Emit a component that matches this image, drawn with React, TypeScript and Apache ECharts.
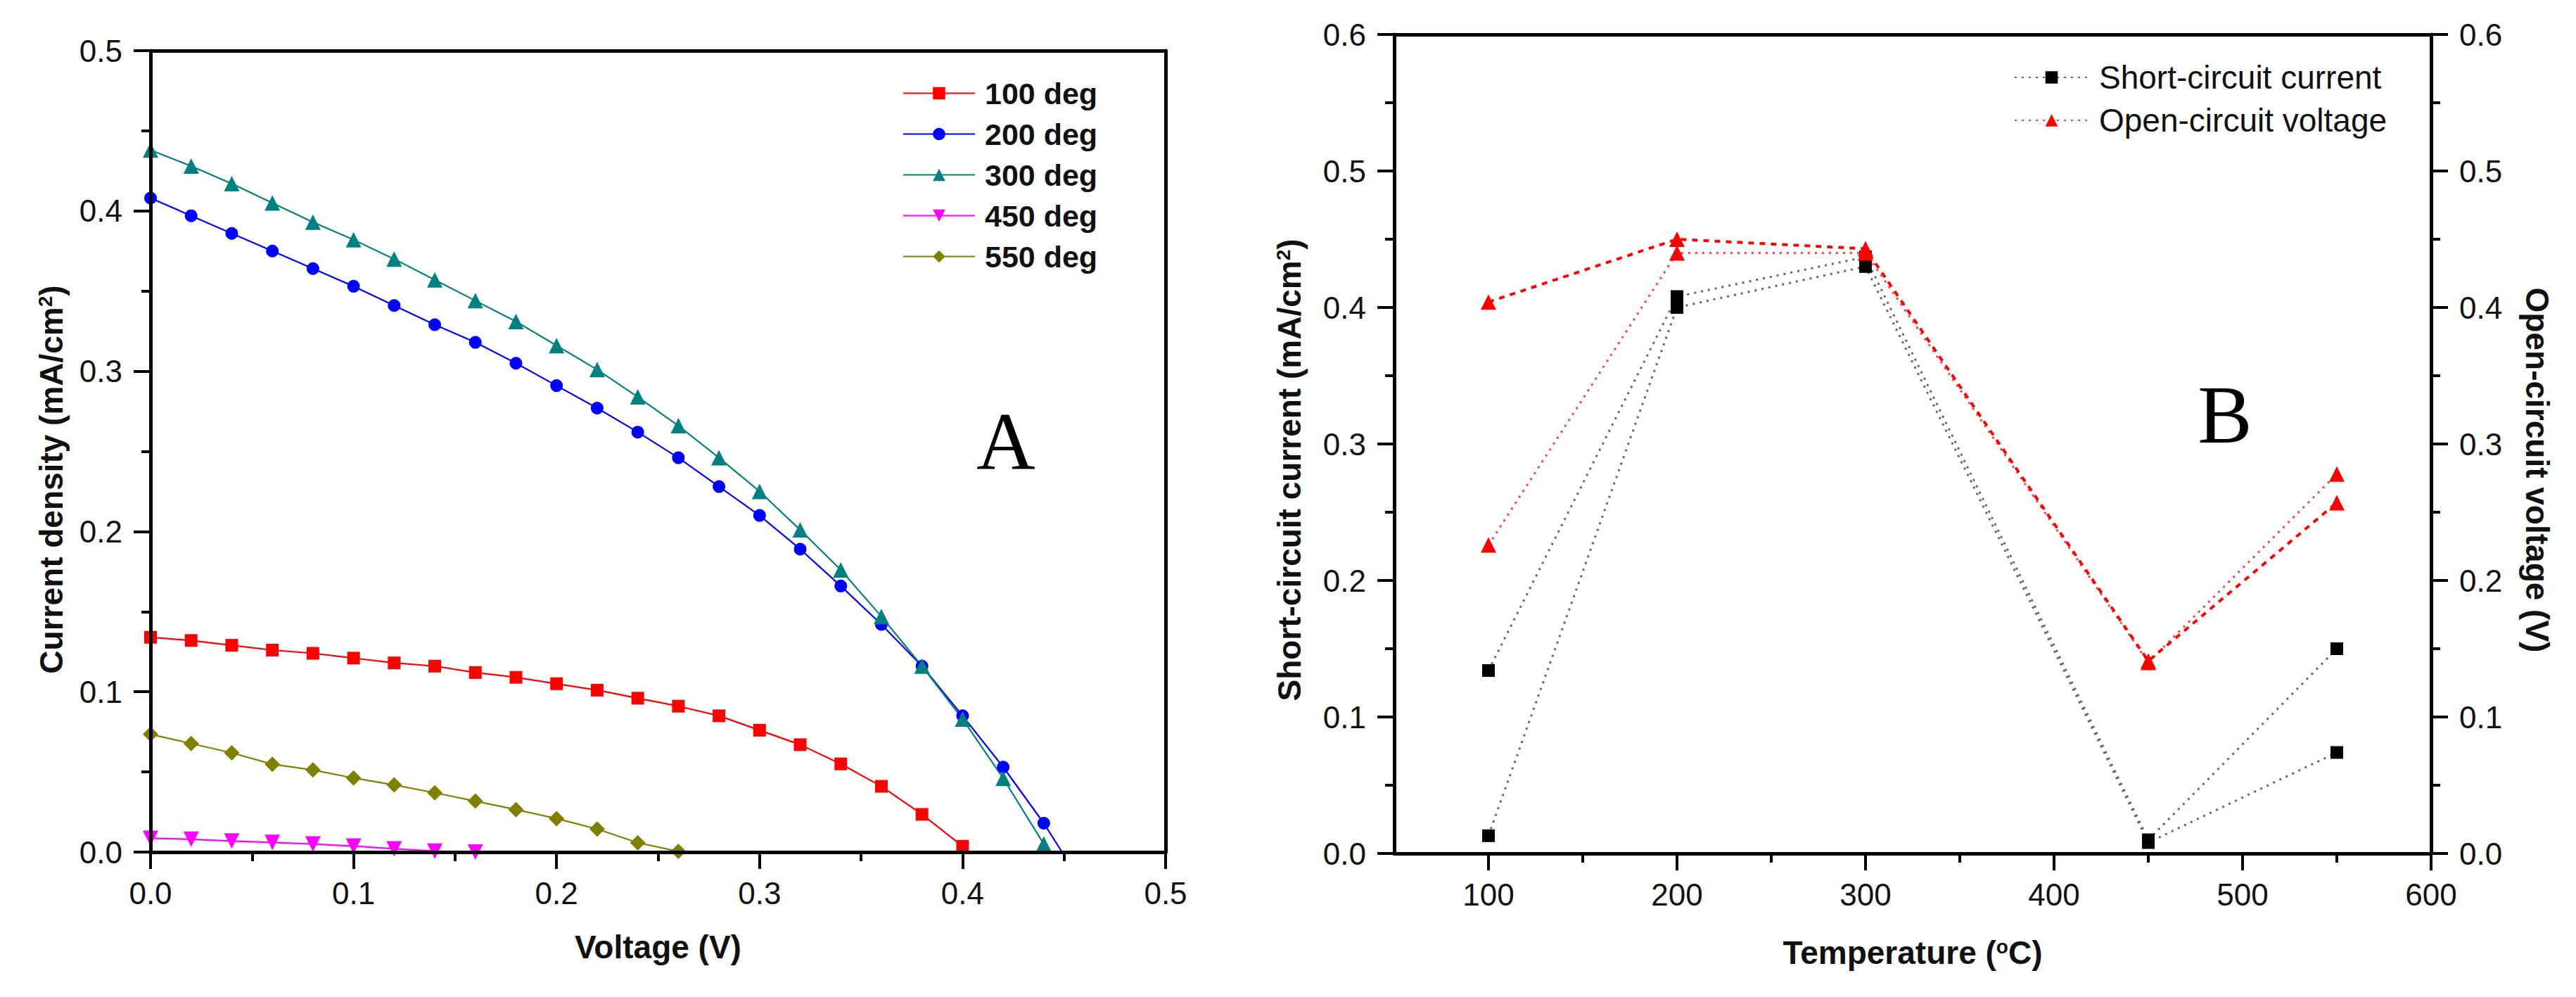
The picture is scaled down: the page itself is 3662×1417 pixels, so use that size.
import React, { useEffect, useRef } from "react";
import * as echarts from "echarts";

// ---------- Panel A data ----------
const voltage = [0, 0.02, 0.04, 0.06, 0.08, 0.1, 0.12, 0.14, 0.16, 0.18, 0.2, 0.22, 0.24, 0.26, 0.28, 0.3, 0.32, 0.34, 0.36, 0.38, 0.4, 0.42, 0.44];
const j100 = [0.134, 0.132, 0.129, 0.126, 0.124, 0.121, 0.118, 0.116, 0.112, 0.109, 0.105, 0.101, 0.096, 0.091, 0.085, 0.076, 0.067, 0.055, 0.041, 0.0235, 0.0036];
const j200 = [0.408, 0.397, 0.386, 0.375, 0.364, 0.353, 0.341, 0.329, 0.318, 0.305, 0.291, 0.277, 0.262, 0.246, 0.228, 0.21, 0.189, 0.166, 0.142, 0.116, 0.085, 0.053, 0.018];
const j200End = [0.449, 0.0];
const j300 = [0.438, 0.428, 0.417, 0.405, 0.393, 0.382, 0.37, 0.357, 0.344, 0.331, 0.316, 0.301, 0.284, 0.266, 0.246, 0.225, 0.201, 0.176, 0.147, 0.116, 0.083, 0.046, 0.005];
const j450 = [0.0086, 0.008, 0.0069, 0.006, 0.005, 0.0037, 0.002, 0.0006, 0.0];
const j550 = [0.0735, 0.0677, 0.0619, 0.0548, 0.0512, 0.0462, 0.0419, 0.037, 0.0318, 0.0265, 0.0209, 0.0144, 0.0058, 0.0004];
const namesA = ["100 deg", "200 deg", "300 deg", "450 deg", "550 deg"];
const ticksA = [0, 0.1, 0.2, 0.3, 0.4, 0.5];

// ---------- Panel B data ----------
const temps = [100, 200, 300, 450, 550];
const iscA = [0.134, 0.408, 0.437, 0.01, 0.15];
const iscB = [0.013, 0.4, 0.43, 0.008, 0.074];
const vocA = [0.404, 0.45, 0.443, 0.141, 0.257];
const vocB = [0.226, 0.44, 0.44, 0.14, 0.278];
const tempMajor = [100, 200, 300, 400, 500, 600];
const tempMinor = [150, 250, 350, 450, 550];
const namesB = ["Short-circuit current", "Open-circuit voltage"];

const SANS = '"Liberation Sans", Arial, sans-serif';
const SERIF = '"Liberation Serif", "Times New Roman", serif';

function pairs(xs: number[], ys: number[]) {
  return ys.map((y, i) => [xs[i], y]);
}

export default function App() {
  const ref = useRef<HTMLDivElement>(null);
  useEffect(() => {
    document.body.style.margin = "0";
    if (!ref.current) return;
    const chart = echarts.init(ref.current, undefined, { renderer: "svg" });

    const tickLabel = { color: "#111", fontSize: 44, fontFamily: SANS };
    const nameStyle = {
      color: "#111",
      fontSize: 46,
      fontWeight: "bold" as const,
      fontFamily: SANS,
      rich: { sup: { fontSize: 28, fontWeight: "bold" as const, fontFamily: SANS, verticalAlign: "top" as const, color: "#111" } },
    };
    const axisLine = { show: true, onZero: false, lineStyle: { color: "#000", width: 5 } };
    const majorTick = { show: true, inside: false, length: 24, lineStyle: { color: "#000", width: 4 } };
    const minorTick = { show: true, splitNumber: 2, length: 13, lineStyle: { color: "#000", width: 4 } };

    const lineA = (name: string, data: any[], color: string, symbol: string, size: number, rotate = 0) => ({
      type: "line",
      name,
      xAxisIndex: 0,
      yAxisIndex: 0,
      data,
      symbol,
      symbolSize: size,
      symbolRotate: rotate,
      showAllSymbol: true,
      itemStyle: { color },
      lineStyle: { color, width: 2.2 },
      z: 3,
    });

    const option: any = {
      animation: false,
      backgroundColor: "#fff",
      grid: [
        { left: 214, top: 72, width: 1443, height: 1139, show: false },
        { left: 1982, top: 49, width: 1474, height: 1164, show: false },
      ],
      xAxis: [
        {
          gridIndex: 0, type: "value", min: 0, max: 0.5, interval: 0.1, position: "bottom", z: 10,
          axisLine, axisTick: majorTick, minorTick, splitLine: { show: false }, minorSplitLine: { show: false },
          axisLabel: { ...tickLabel, margin: 36, formatter: (v: number) => v.toFixed(1), customValues: ticksA },
          name: "Voltage (V)", nameLocation: "middle", nameGap: 112, nameTextStyle: nameStyle,
        },
        {
          gridIndex: 0, type: "value", min: 0, max: 0.5, position: "top", z: 10,
          axisLine, axisTick: { show: false }, axisLabel: { show: false }, splitLine: { show: false },
        },
        {
          gridIndex: 1, type: "value", min: 50, max: 600, interval: 50, position: "bottom", z: 10,
          axisLine, axisTick: { ...majorTick, customValues: tempMajor }, splitLine: { show: false },
          axisLabel: { ...tickLabel, margin: 36, customValues: tempMajor, formatter: (v: number) => String(v) },
          name: "Temperature ({sup|o}C)", nameLocation: "middle", nameGap: 118, nameTextStyle: nameStyle,
        },
        {
          gridIndex: 1, type: "value", min: 50, max: 600, interval: 50, position: "bottom", z: 10,
          axisLine: { show: false }, axisLabel: { show: false }, splitLine: { show: false },
          axisTick: { show: true, inside: false, length: 13, customValues: tempMinor, lineStyle: { color: "#000", width: 4 } },
        },
        {
          gridIndex: 1, type: "value", min: 50, max: 600, position: "top", z: 10,
          axisLine, axisTick: { show: false }, axisLabel: { show: false }, splitLine: { show: false },
        },
      ],
      yAxis: [
        {
          gridIndex: 0, type: "value", min: 0, max: 0.5, interval: 0.1, position: "left", z: 10,
          axisLine, axisTick: majorTick, minorTick, splitLine: { show: false }, minorSplitLine: { show: false },
          axisLabel: { ...tickLabel, margin: 40, formatter: (v: number) => v.toFixed(1) },
          name: "Current density (mA/cm{sup|2})", nameLocation: "middle", nameGap: 118,
          nameTextStyle: { ...nameStyle, padding: [0, 80, 0, 0] },
        },
        {
          gridIndex: 0, type: "value", min: 0, max: 0.5, position: "right", z: 10,
          axisLine, axisTick: { show: false }, axisLabel: { show: false }, splitLine: { show: false },
        },
        {
          gridIndex: 1, type: "value", min: 0, max: 0.6, interval: 0.1, position: "left", z: 10,
          axisLine, axisTick: majorTick, minorTick, splitLine: { show: false }, minorSplitLine: { show: false },
          axisLabel: { ...tickLabel, margin: 40, formatter: (v: number) => v.toFixed(1) },
          name: "Short-circuit current (mA/cm{sup|2})", nameLocation: "middle", nameGap: 126,
          nameTextStyle: { ...nameStyle, padding: [0, 74, 0, 0] },
        },
        {
          gridIndex: 1, type: "value", min: 0, max: 0.6, interval: 0.1, position: "right", z: 10,
          axisLine, axisTick: majorTick, minorTick, splitLine: { show: false }, minorSplitLine: { show: false },
          axisLabel: { ...tickLabel, margin: 40, formatter: (v: number) => v.toFixed(1) },
          name: "Open-circuit voltage (V)", nameLocation: "middle", nameGap: 128, nameRotate: -90,
          nameTextStyle: { ...nameStyle, padding: [0, 0, 0, 74] },
        },
      ],
      legend: [
        {
          data: namesA, orient: "vertical", left: 1278, top: 106, itemWidth: 102, itemHeight: 22, itemGap: 15,
          selectedMode: false,
          textStyle: { fontSize: 43, fontWeight: "bold", fontFamily: SANS, color: "#111", lineHeight: 40, padding: [0, 0, 0, 9] },
        },
        {
          data: namesB, orient: "vertical", left: 2858, top: 82, itemWidth: 105, itemHeight: 22, itemGap: 15,
          selectedMode: false,
          textStyle: { fontSize: 46, fontFamily: SANS, color: "#111", lineHeight: 40, padding: [0, 0, 0, 10] },
        },
      ],
      graphic: [
        { type: "text", x: 1430, y: 628, z: 10, style: { text: "A", fontSize: 116, fontFamily: SERIF, fill: "#000", align: "center", verticalAlign: "middle" } },
        { type: "text", x: 3163, y: 590, z: 10, style: { text: "B", fontSize: 116, fontFamily: SERIF, fill: "#000", align: "center", verticalAlign: "middle" } },
      ],
      series: [
        lineA(namesA[0], pairs(voltage, j100), "#ff0000", "rect", 18),
        lineA(namesA[1], [...pairs(voltage, j200), { value: j200End, symbol: "none" }], "#0000ff", "circle", 18),
        lineA(namesA[2], pairs(voltage, j300), "#008080", "triangle", 22),
        lineA(namesA[3], pairs(voltage, j450), "#ff00ff", "triangle", 22, 180),
        lineA(namesA[4], pairs(voltage, j550), "#808000", "diamond", 22),
        {
          type: "line", name: namesB[0], xAxisIndex: 2, yAxisIndex: 2, data: pairs(temps, iscA),
          symbol: "rect", symbolSize: 18, itemStyle: { color: "#000" },
          lineStyle: { color: "#666", width: 3, type: [3, 7] }, z: 3,
        },
        {
          type: "line", name: namesB[0], xAxisIndex: 2, yAxisIndex: 2, data: pairs(temps, iscB),
          symbol: "rect", symbolSize: 18, itemStyle: { color: "#000" },
          lineStyle: { color: "#666", width: 3, type: [3, 7] }, z: 3,
        },
        {
          type: "line", name: namesB[1], xAxisIndex: 2, yAxisIndex: 3, data: pairs(temps, vocB),
          symbol: "triangle", symbolSize: 22, itemStyle: { color: "#ff0000" },
          lineStyle: { color: "#ff4040", width: 3, type: [3, 7] }, z: 4,
        },
        {
          type: "line", name: namesB[1], xAxisIndex: 2, yAxisIndex: 3, data: pairs(temps, vocA),
          symbol: "triangle", symbolSize: 22, itemStyle: { color: "#ff0000" },
          lineStyle: { color: "#ff0000", width: 4, type: [8, 8] }, z: 4,
        },
      ],
    };
    chart.setOption(option);
    return () => chart.dispose();
  }, []);
  return <div ref={ref} style={{ width: 3662, height: 1417, background: "#fff" }} />;
}
